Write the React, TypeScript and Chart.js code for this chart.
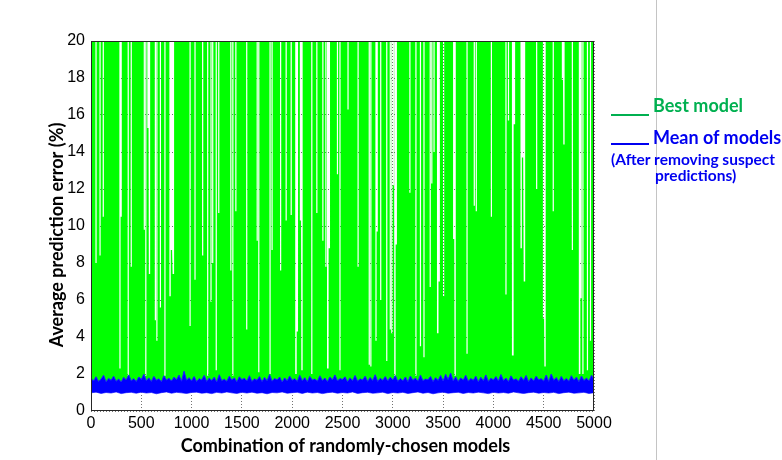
import React, { useEffect, useRef } from "react";
import { Chart, registerables } from "chart.js";

Chart.register(...registerables);

// ---------- data ----------
const X_MIN = 0;
const X_MAX = 5000;
const X_STEP = 500;
const Y_MIN = 0;
const Y_MAX = 20;
const Y_STEP = 2;

const xTitle = "Combination of randomly-chosen models";
const yTitle = "Average prediction error (%)";

const legendBest = "Best model";
const legendMean = "Mean of models";
const legendNote1 = "(After removing suspect";
const legendNote2 = "predictions)";

// Best model: mostly above the axis top (> 20 %); the combinations where it drops lower
const bestAbove = 21;
const bestFloor = 1.3;
const bestDipX = [
  50, 90, 122, 288, 300, 370, 400, 530, 545, 566, 582, 640, 655, 690, 735, 785, 800, 820, 985,
  1034, 1110, 1160, 1193, 1210, 1245, 1270, 1390, 1410, 1440, 1548, 1652, 1668, 1780, 1800, 1885, 1940, 1990,
  2036, 2052, 2082, 2098, 2195, 2245, 2305, 2335, 2352, 2370, 2450, 2475, 2555, 2655, 2766, 2782, 2833, 2845, 2880, 2940, 2975, 2990,
  3005, 3020, 3035, 3170, 3230, 3275, 3310, 3372, 3388, 3410, 3445, 3462, 3505, 3605, 3620, 3738, 3810, 3830, 3980,
  4125, 4150, 4190, 4210, 4275, 4290, 4310, 4430, 4498, 4514, 4595, 4686, 4702, 4785, 4855, 4872, 4890, 4935, 4965,
];
const bestDipY = [
  8.0, 8.4, 10.5, 2.3, 10.5, 1.9, 7.8, 9.8, 1.9, 15.3, 7.4, 4.9, 3.8, 5.6, 1.9, 6.2, 8.7, 7.4, 4.6,
  7.1, 8.4, 1.9, 5.9, 8.0, 2.2, 10.7, 7.6, 1.9, 10.8, 4.4, 9.2, 2.1, 2.0, 8.7, 7.6, 10.3, 10.6,
  2.0, 4.3, 10.3, 2.2, 2.0, 10.7, 9.2, 7.8, 2.3, 8.8, 12.8, 2.2, 16.3, 7.8, 2.5, 2.4, 3.8, 9.7, 6.0, 2.7, 4.4, 4.2,
  12.2, 1.9, 9.0, 11.8, 1.9, 3.5, 2.9, 6.7, 12.3, 14.0, 4.2, 7.0, 6.2, 9.3, 1.9, 3.1, 11.1, 10.8, 10.5,
  6.3, 15.7, 3.0, 15.5, 8.8, 13.7, 7.0, 12.0, 5.0, 2.4, 10.8, 17.9, 14.4, 8.7, 2.0, 6.1, 2.0, 2.2, 3.8,
];

// Mean of models: upper envelope (every 25 combinations) and lower envelope (every 50)
const meanUpperStep = 25;
const meanUpper = [
  1.78, 1.62, 1.85, 1.60, 1.71, 1.93, 1.58, 1.76, 1.66, 1.88, 1.61, 1.73, 1.57, 1.82, 1.68, 1.95, 1.63, 1.75, 1.59, 1.84,
  1.70, 1.98, 1.64, 1.79, 1.60, 1.87, 1.66, 1.74, 1.58, 1.90, 1.67, 1.77, 1.62, 1.83, 1.69, 1.94, 1.61, 2.15, 1.66, 1.80,
  1.63, 1.86, 1.59, 1.75, 1.68, 1.92, 1.60, 1.78, 1.65, 1.83, 1.57, 1.96, 1.64, 1.72, 1.61, 1.88, 1.67, 1.79, 1.58, 1.85,
  1.69, 1.77, 1.62, 1.91, 1.60, 1.74, 1.66, 1.86, 1.59, 1.81, 1.64, 1.97, 1.61, 1.76, 1.68, 1.84, 1.57, 1.79, 1.63, 1.89,
  1.66, 1.75, 1.60, 1.93, 1.64, 1.80, 1.58, 1.87, 1.67, 1.73, 1.61, 1.90, 1.65, 1.78, 1.59, 1.84, 1.68, 1.95, 1.62, 1.76,
  1.70, 1.85, 1.58, 1.79, 1.64, 1.92, 1.61, 1.74, 1.67, 1.88, 1.60, 1.81, 1.65, 1.96, 1.59, 1.77, 1.66, 1.86, 1.62, 1.83,
  1.68, 1.91, 1.60, 1.76, 1.63, 1.84, 1.58, 1.89, 1.66, 1.78, 1.61, 1.94, 1.64, 1.73, 1.69, 1.87, 1.59, 1.80, 1.65, 1.92,
  1.62, 1.98, 1.70, 2.05, 1.63, 1.85, 1.60, 1.79, 1.67, 1.93, 1.61, 1.76, 1.66, 1.88, 1.58, 1.82, 1.64, 1.95, 1.60, 1.77,
  1.68, 1.86, 1.62, 1.97, 1.65, 1.78, 1.59, 1.90, 1.67, 1.74, 1.61, 1.85, 1.66, 1.92, 1.58, 1.79, 1.63, 1.88, 1.69, 1.75,
  1.62, 1.94, 1.60, 2.00, 1.66, 1.81, 1.59, 1.87, 1.64, 1.76, 1.61, 1.91, 1.67, 1.83, 1.58, 1.89, 1.65, 1.78, 1.62, 1.93,
  1.70,
];
const meanLowerStep = 50;
const meanLower = [
  0.98, 1.02, 0.95, 1.00, 0.97, 1.03, 0.94, 0.99, 1.01, 0.96,
  1.02, 0.97, 1.00, 0.93, 0.99, 1.03, 0.96, 1.01, 0.98, 0.95,
  1.00, 1.02, 0.96, 0.99, 0.94, 1.01, 0.97, 1.03, 0.98, 0.95,
  1.01, 0.97, 1.02, 0.96, 0.99, 0.93, 1.00, 0.98, 1.03, 0.96,
  0.99, 1.01, 0.95, 1.02, 0.97, 1.00, 0.94, 0.99, 1.02, 0.96,
  1.00, 0.97, 1.03, 0.95, 0.99, 1.01, 0.96, 0.98, 1.02, 0.94,
  1.00, 0.97, 1.01, 0.95, 0.99, 1.03, 0.96, 1.00, 0.93, 0.98,
  1.02, 0.96, 0.99, 1.01, 0.95, 1.00, 0.97, 1.02, 0.98, 0.94,
  1.01, 0.97, 1.00, 0.96, 1.03, 0.98, 0.95, 0.99, 1.02, 0.96,
  1.00, 0.97, 1.01, 0.94, 0.99, 1.02, 0.96, 0.98, 1.01, 0.95,
  0.99,
];

// ---------- styling constants ----------
const W = 782;
const H = 460;
const DIP_HALF = 6;
const GREEN = "#00ff00";
const BLUE = "#0000ff";
const LEGEND_GREEN = "#00b050";
const LEGEND_BLUE = "#0000f0";
const TITLE_FONT = "bold 18px Lato, sans-serif";

function buildBest() {
  const pts: { x: number; y: number }[] = [{ x: X_MIN, y: bestAbove }];
  bestDipX.forEach((x, i) => {
    const d = bestDipY[i];
    pts.push({ x: x - DIP_HALF, y: bestAbove });
    pts.push({ x: x - DIP_HALF, y: d });
    pts.push({ x: x + DIP_HALF, y: d });
    pts.push({ x: x + DIP_HALF, y: bestAbove });
  });
  pts.push({ x: X_MAX, y: bestAbove });
  return pts;
}

const framePlugin = {
  id: "frame",
  afterDatasetsDraw(chart: any) {
    const { ctx, chartArea } = chart;
    const { left, top, right, bottom } = chartArea;
    ctx.save();
    ctx.strokeStyle = "#262626";
    ctx.lineWidth = 1;
    ctx.strokeRect(left + 0.5, top + 0.5, right - left - 1, bottom - top - 1);
    ctx.restore();
  },
};

const axisTitlePlugin = {
  id: "axisTitles",
  afterDraw(chart: any) {
    const { ctx, chartArea } = chart;
    const cx = (chartArea.left + chartArea.right) / 2 + 3;
    const cy = (chartArea.top + chartArea.bottom) / 2 + 9;
    ctx.save();
    ctx.fillStyle = "#000";
    ctx.font = TITLE_FONT;
    ctx.textAlign = "center";
    ctx.textBaseline = "middle";
    ctx.fillText(xTitle, cx, chartArea.bottom + 35);
    ctx.translate(chartArea.left - 34, cy);
    ctx.rotate(-Math.PI / 2);
    ctx.fillText(yTitle, 0, 0);
    ctx.restore();
  },
};

export default function App() {
  const ref = useRef<HTMLCanvasElement | null>(null);

  useEffect(() => {
    if (!ref.current) return;
    const tickFont = { family: "'Liberation Sans', Arial, sans-serif", size: 16 };
    const chart = new Chart(ref.current, {
      type: "line",
      data: {
        datasets: [
          {
            label: legendMean,
            data: meanUpper.map((y, i) => ({ x: i * meanUpperStep, y })),
            borderColor: "rgba(30,30,255,1)",
            backgroundColor: BLUE,
            borderWidth: 1,
            fill: "+1",
            pointRadius: 0,
          },
          {
            label: "lower",
            data: meanLower.map((y, i) => ({ x: i * meanLowerStep, y })),
            borderColor: "rgba(70,70,255,0.85)",
            borderWidth: 1,
            fill: false,
            pointRadius: 0,
          },
          {
            label: legendBest,
            data: buildBest(),
            borderWidth: 0,
            borderColor: GREEN,
            backgroundColor: GREEN,
            fill: { value: bestFloor },
            pointRadius: 0,
          },
        ],
      },
      options: {
        animation: false,
        responsive: false,
        devicePixelRatio: 1,
        layout: { padding: { left: 0, right: 188, top: 41, bottom: 0 } },
        elements: { line: { tension: 0 }, point: { radius: 0 } },
        plugins: { legend: { display: false }, tooltip: { enabled: false } },
        scales: {
          x: {
            type: "linear",
            min: X_MIN,
            max: X_MAX,
            ticks: {
              stepSize: X_STEP,
              font: tickFont,
              color: "#000",
              padding: 3,
              maxRotation: 0,
              autoSkip: false,
              callback: (v: any) => String(v),
            },
            grid: { color: "rgba(0,0,0,0.55)", drawTicks: false, lineWidth: 1 },
            border: { display: false, dash: [1, 2] },
            afterFit: (s: any) => {
              s.height = 49;
            },
          },
          y: {
            type: "linear",
            min: Y_MIN,
            max: Y_MAX,
            ticks: {
              stepSize: Y_STEP,
              font: tickFont,
              color: "#000",
              padding: 6,
              autoSkip: false,
              callback: (v: any) => String(v),
            },
            grid: { color: "rgba(0,0,0,0.55)", drawTicks: false, lineWidth: 1 },
            border: { display: false, dash: [1, 2] },
            afterFit: (s: any) => {
              s.width = 91;
            },
          },
        },
      } as any,
      plugins: [framePlugin, axisTitlePlugin],
    });
    return () => chart.destroy();
  }, []);

  const textBase: React.CSSProperties = {
    position: "absolute",
    fontFamily: "Lato, sans-serif",
    fontWeight: 700,
    whiteSpace: "nowrap",
    lineHeight: 1,
    margin: 0,
  };

  return (
    <div style={{ position: "fixed", left: 0, top: 0, width: W, height: H, background: "#fff" }}>
      <div style={{ position: "absolute", left: 656, top: 0, width: 1, height: H, background: "#c4c4c4" }} />
      <canvas ref={ref} width={W} height={H} style={{ position: "absolute", left: 0, top: 0, width: W, height: H }} />
      <div style={{ position: "absolute", left: 611, top: 114, width: 38, height: 2, background: LEGEND_GREEN }} />
      <div style={{ ...textBase, left: 653, top: 95.7, fontSize: 18, color: LEGEND_GREEN }}>{legendBest}</div>
      <div style={{ position: "absolute", left: 611, top: 143, width: 38, height: 2, background: LEGEND_BLUE }} />
      <div style={{ ...textBase, left: 653, top: 128, fontSize: 18, color: LEGEND_BLUE }}>{legendMean}</div>
      <div style={{ ...textBase, left: 611, top: 152.3, fontSize: 15.5, color: LEGEND_BLUE }}>{legendNote1}</div>
      <div style={{ ...textBase, left: 655, top: 168, fontSize: 15.5, color: LEGEND_BLUE }}>{legendNote2}</div>
    </div>
  );
}
